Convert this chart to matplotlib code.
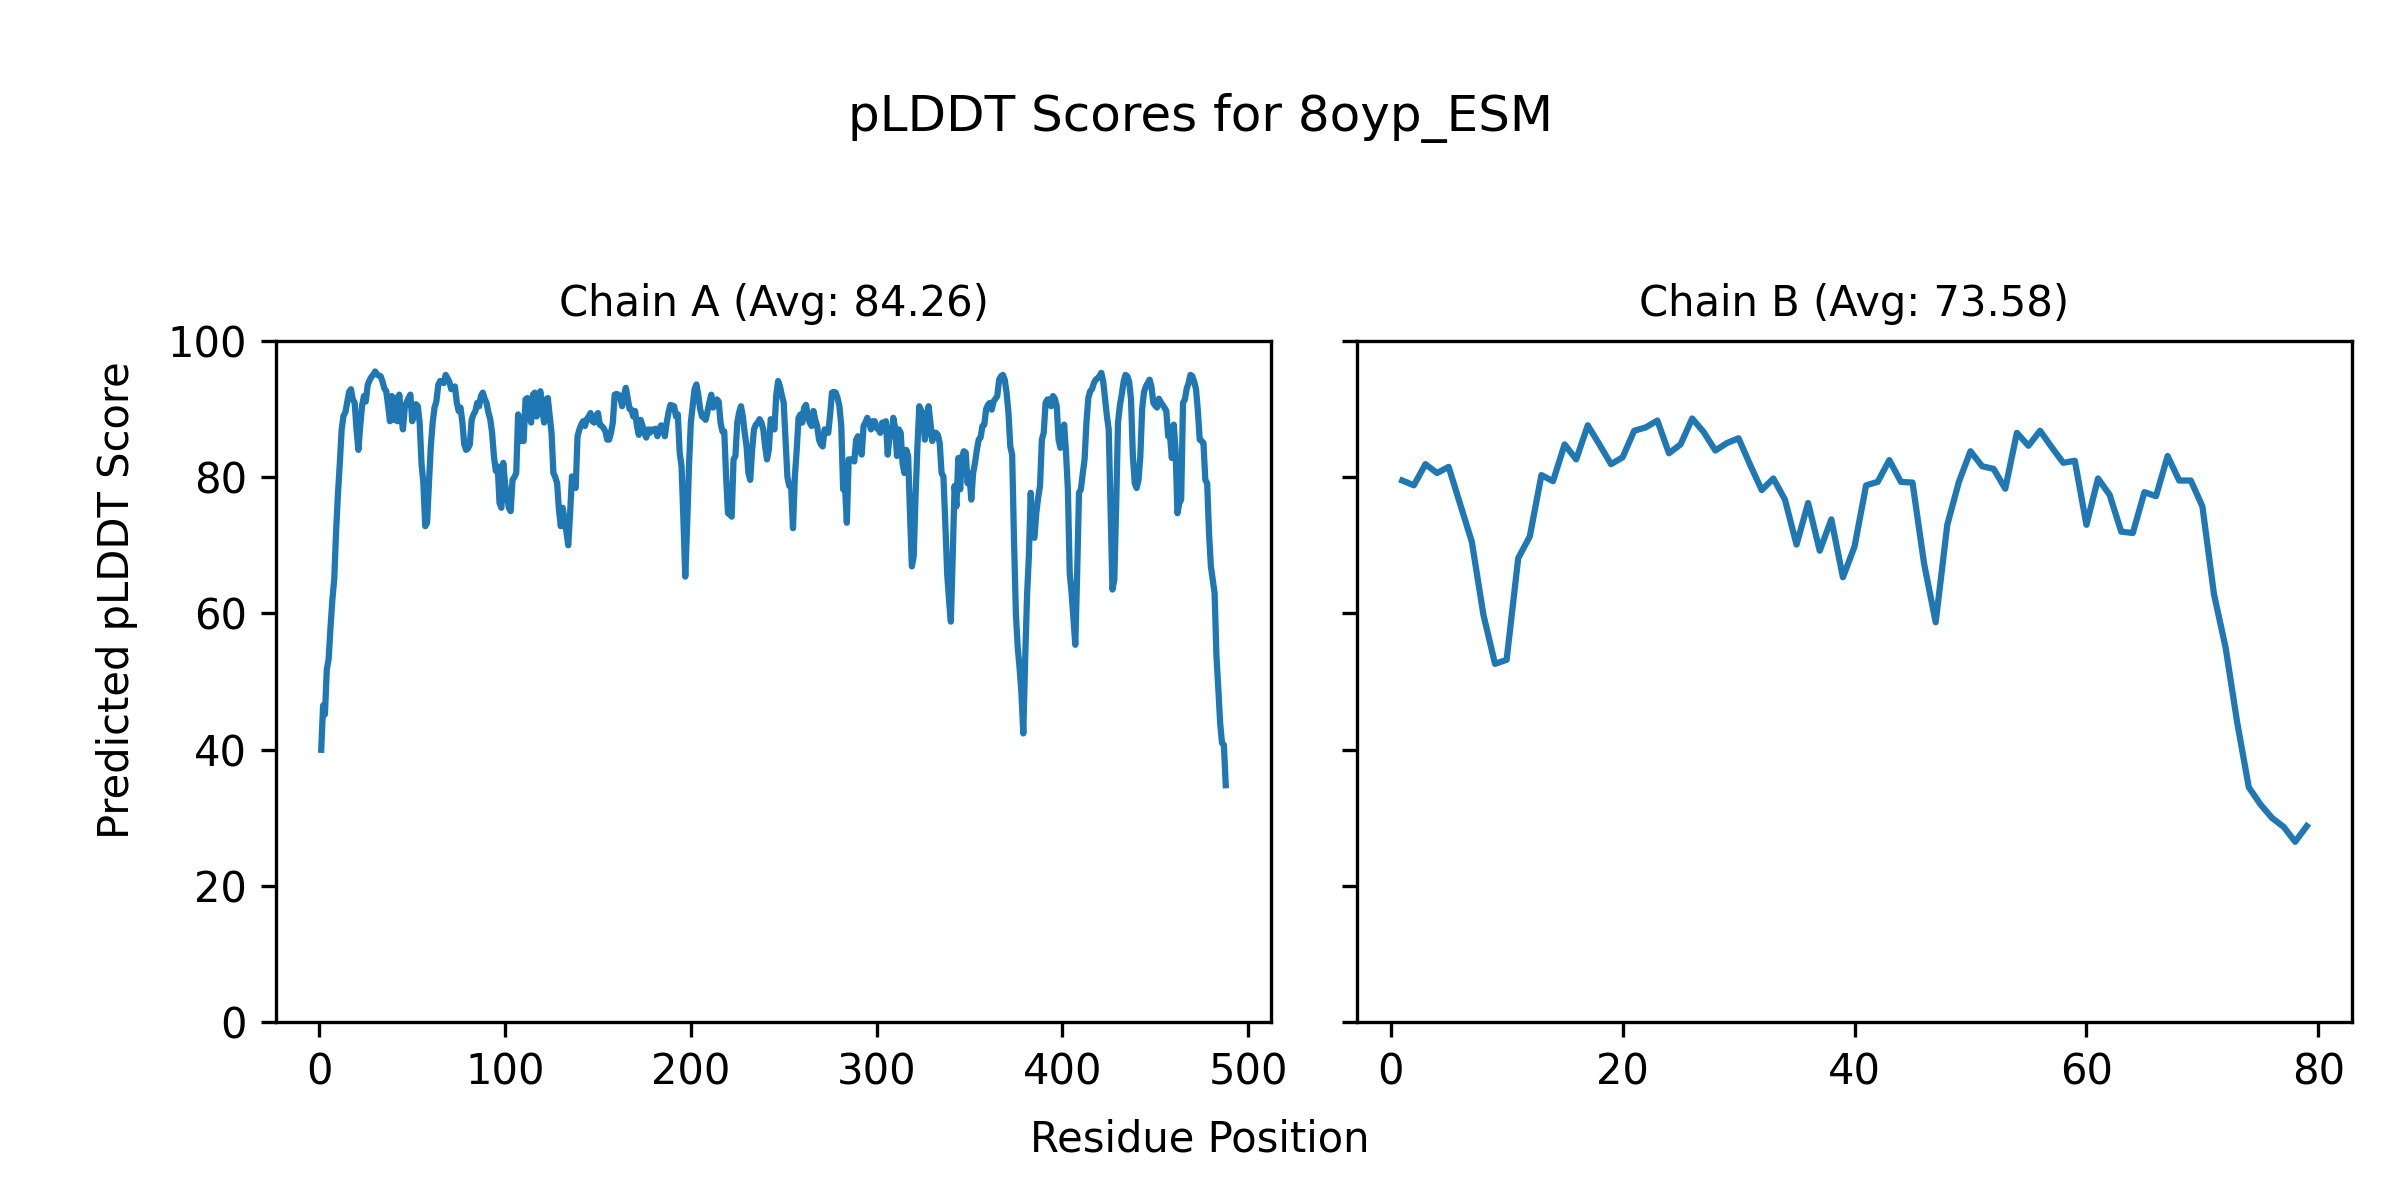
import numpy as np
import matplotlib
matplotlib.use("Agg")
import matplotlib.pyplot as plt

# pLDDT per residue
chain_a_plddt = [
    40.0, 46.5, 45.2, 51.8, 53.3, 58.0, 62.0, 65.0, 72.0, 77.5,
    82.0, 87.0, 89.0, 89.5, 91.0, 92.5, 92.9, 91.4, 90.9, 87.0,
    84.0, 87.5, 90.5, 91.9, 91.1, 93.5, 94.2, 94.7, 95.0, 95.5,
    95.1, 94.9, 94.8, 94.0, 93.0, 92.6, 90.5, 88.2, 91.9, 88.4,
    91.6, 88.2, 92.1, 89.0, 87.0, 90.2, 91.0, 91.6, 92.1, 88.2,
    89.5, 90.7, 90.4, 88.0, 82.0, 79.1, 72.8, 73.3, 79.1, 84.5,
    88.0, 90.2, 91.1, 93.5, 94.1, 94.0, 93.8, 95.0, 94.5, 94.0,
    92.9, 93.0, 93.3, 90.9, 89.7, 90.2, 88.0, 84.8, 84.0, 84.2,
    84.8, 88.4, 89.2, 89.7, 90.9, 90.4, 91.9, 92.4, 91.5, 90.9,
    89.5, 88.5, 86.5, 83.0, 80.9, 81.6, 76.2, 75.5, 82.1, 79.0,
    77.2, 75.5, 75.0, 79.6, 80.0, 80.6, 89.2, 88.5, 85.3, 85.3,
    91.4, 91.6, 89.5, 88.0, 92.1, 92.4, 88.9, 91.6, 92.6, 90.0,
    88.0, 91.4, 91.6, 89.0, 86.5, 80.6, 80.0, 79.1, 75.2, 72.8,
    75.5, 73.8, 72.0, 70.0, 74.7, 80.1, 79.0, 78.4, 86.0, 87.0,
    87.7, 88.2, 87.5, 88.5, 88.9, 89.4, 88.2, 88.0, 89.0, 89.4,
    87.7, 87.5, 87.2, 86.7, 85.5, 85.5, 86.5, 88.0, 92.1, 92.2,
    92.1, 91.6, 90.4, 92.0, 93.1, 91.6, 90.0, 89.9, 88.9, 89.7,
    87.5, 86.2, 88.4, 87.5, 86.5, 85.8, 87.0, 86.5, 87.0, 86.8,
    87.1, 86.0, 87.0, 87.6, 87.2, 86.0, 88.0, 89.5, 90.6, 90.5,
    90.4, 88.9, 89.2, 83.6, 81.6, 73.8, 65.4, 72.8, 81.6, 88.0,
    90.4, 92.9, 93.6, 92.1, 90.0, 88.9, 88.7, 88.4, 89.7, 91.0,
    92.1, 90.2, 91.0, 91.4, 91.1, 88.0, 86.7, 86.7, 80.0, 74.7,
    74.5, 74.2, 82.6, 83.1, 88.0, 89.5, 90.4, 88.9, 86.5, 84.5,
    80.6, 79.6, 84.0, 87.0, 87.7, 88.0, 88.5, 88.0, 87.0, 84.5,
    82.6, 84.0, 88.5, 88.0, 87.0, 92.1, 94.1, 93.3, 92.0, 90.9,
    85.5, 80.0, 78.7, 78.7, 72.5, 80.0, 84.0, 88.7, 89.2, 88.0,
    90.2, 90.6, 89.0, 88.0, 87.5, 89.7, 88.4, 87.5, 85.5, 84.8,
    84.5, 87.0, 86.8, 86.5, 89.2, 92.4, 92.5, 92.4, 91.6, 90.4,
    87.5, 78.2, 78.7, 73.3, 82.6, 82.6, 82.6, 82.3, 85.5, 86.0,
    84.0, 83.3, 87.5, 88.0, 88.7, 88.0, 87.0, 88.2, 88.2, 87.2,
    87.0, 86.5, 88.0, 87.0, 88.2, 83.3, 86.0, 86.0, 88.7, 87.2,
    83.1, 87.0, 86.5, 82.0, 80.6, 84.0, 83.1, 74.7, 66.9, 68.4,
    77.2, 84.5, 90.4, 89.8, 89.4, 85.5, 87.0, 90.4, 88.0, 85.3,
    86.5, 86.5, 86.2, 85.0, 80.6, 80.1, 73.3, 65.9, 62.0, 58.8,
    68.4, 78.7, 75.7, 82.8, 78.2, 83.0, 83.8, 83.6, 79.1, 80.6,
    76.7, 80.6, 82.1, 84.0, 85.5, 85.8, 87.5, 87.7, 90.0, 90.6,
    90.9, 89.9, 91.1, 91.5, 91.9, 94.3, 94.8, 95.0, 94.3, 92.4,
    89.5, 84.5, 83.3, 70.8, 60.0, 55.0, 52.0, 48.3, 42.4, 53.2,
    62.5, 68.4, 77.7, 71.3, 71.1, 74.7, 77.0, 78.7, 85.5, 86.5,
    90.9, 91.4, 91.4, 90.4, 91.9, 91.5, 90.4, 85.5, 84.3, 85.0,
    87.7, 83.6, 78.2, 65.9, 63.0, 59.1, 55.4, 65.9, 77.7, 78.2,
    80.5, 82.6, 88.0, 91.6, 92.6, 92.9, 93.8, 94.3, 94.5, 94.8,
    95.3, 94.1, 91.6, 89.0, 87.0, 75.0, 63.5, 64.9, 75.7, 88.0,
    90.5, 92.1, 94.0, 95.0, 94.8, 94.0, 91.4, 83.1, 79.1, 78.4,
    79.5, 83.0, 90.0, 92.5, 93.3, 93.8, 94.3, 93.3, 90.9, 90.5,
    90.2, 91.5, 91.0, 90.6, 90.2, 89.7, 86.0, 86.0, 82.8, 87.7,
    84.0, 74.7, 76.2, 76.7, 90.9, 91.4, 93.0, 93.8, 95.0, 94.8,
    94.0, 92.9, 89.7, 85.5, 85.3, 85.0, 79.6, 79.1, 71.8, 66.9,
    65.0, 63.0, 53.7, 49.0, 43.9, 41.0, 40.7, 34.8,
]

chain_b_plddt = [
    79.5, 78.8, 81.9, 80.6, 81.5, 76.0, 70.5, 59.8, 52.6, 53.2,
    68.1, 71.3, 80.3, 79.4, 84.8, 82.6, 87.6, 84.8, 81.9, 82.9,
    86.8, 87.3, 88.3, 83.5, 84.8, 88.6, 86.6, 83.9, 85.0, 85.7,
    81.8, 78.1, 79.8, 76.7, 70.1, 76.2, 69.2, 73.8, 65.3, 69.8,
    78.8, 79.3, 82.5, 79.3, 79.2, 67.3, 58.7, 73.0, 79.3, 83.8,
    81.6, 81.2, 78.3, 86.5, 84.6, 86.8, 84.4, 82.1, 82.4, 73.0,
    79.8, 77.4, 72.0, 71.8, 77.8, 77.2, 83.1, 79.5, 79.5, 75.7,
    62.8, 55.0, 44.0, 34.5, 32.0, 30.0, 28.7, 26.5, 28.8,
]

chains = ["A", "B"]
chain_scores = [chain_a_plddt, chain_b_plddt]
chain_avgs = ["84.26", "73.58"]

fig, axes = plt.subplots(1, 2, figsize=(8, 4), sharey=True)

for ax, name, scores, avg in zip(axes, chains, chain_scores, chain_avgs):
    residues = np.arange(1, len(scores) + 1)
    ax.plot(residues, scores, color="#1f77b4", linewidth=1.5)
    ax.set_title(f"Chain {name} (Avg: {avg})", fontsize=10)
    ax.set_ylim(0, 100)

fig.suptitle("pLDDT Scores for 8oyp_ESM", y=0.902, va="center")
fig.text(0.5, 0.04, "Residue Position", ha="center")
fig.text(0.04, 0.5, "Predicted pLDDT Score", va="center", rotation="vertical")

plt.subplots_adjust(left=0.115, right=0.98, bottom=0.148, top=0.716, wspace=0.0865)
plt.savefig("out.png", dpi=300)
plt.close()
